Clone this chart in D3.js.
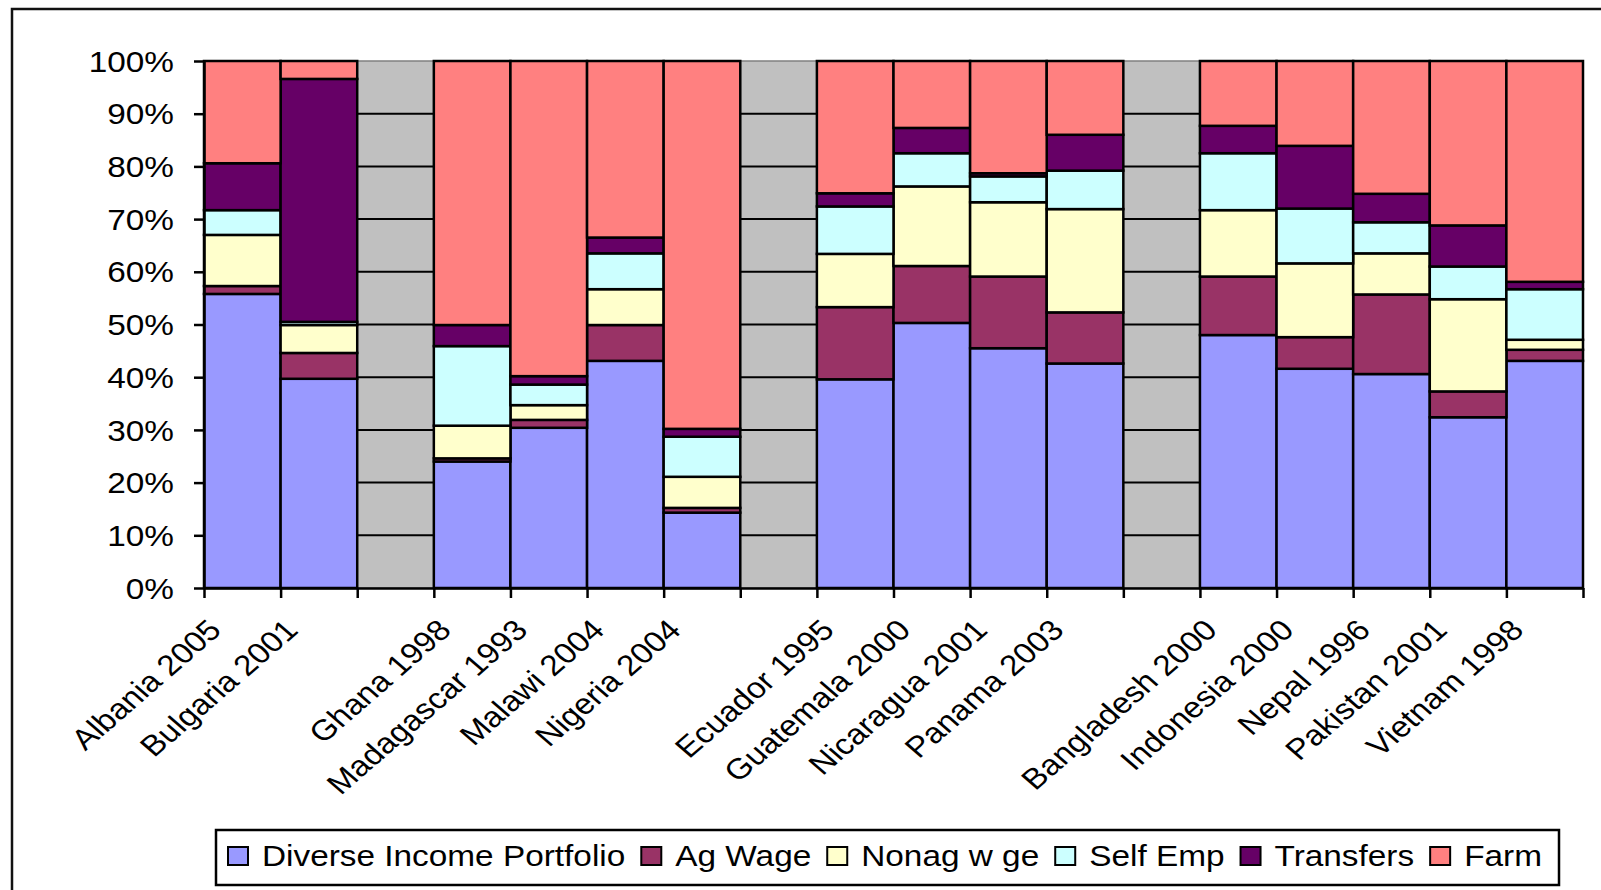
<!DOCTYPE html>
<html>
<head>
    <title>Income portfolio shares</title>
    <script src="https://d3js.org/d3.v7.min.js"></script>
    <style>
        body { margin: 0; background: white; }
        text { font-family: "Liberation Sans", Arial, sans-serif; fill: black; }
    </style>
</head>
<body>
<script>
    // categories, empty strings are the blank slots between regions
    var categories = ["Albania 2005", "Bulgaria 2001", "", "Ghana 1998", "Madagascar 1993", "Malawi 2004", "Nigeria 2004", "",
        "Ecuador 1995", "Guatemala 2000", "Nicaragua 2001", "Panama 2003", "",
        "Bangladesh 2000", "Indonesia 2000", "Nepal 1996", "Pakistan 2001", "Vietnam 1998"];

    var seriesNames = ["Diverse Income Portfolio", "Ag Wage", "Nonag w ge", "Self Emp", "Transfers", "Farm"];

    // shares in percent
    var diverse   = [55.8, 39.7, null, 24.0, 30.4, 43.1, 14.3, null, 39.6, 50.3, 45.5, 42.6, null, 48.0, 41.6, 40.6, 32.4, 43.1];
    var agWage    = [1.5, 4.9, null, 0.6, 1.5, 6.8, 0.9, null, 13.7, 10.8, 13.6, 9.7, null, 11.1, 6.0, 15.1, 4.9, 2.1];
    var nonagWage = [9.7, 5.3, null, 6.2, 2.8, 6.8, 5.9, null, 10.1, 15.1, 14.1, 19.6, null, 12.6, 14.0, 7.8, 17.5, 1.9];
    var selfEmp   = [4.7, 0.6, null, 15.1, 3.9, 6.8, 7.6, null, 9.0, 6.3, 4.9, 7.3, null, 10.8, 10.4, 5.9, 6.2, 9.6];
    var transfers = [8.9, 46.1, null, 4.0, 1.6, 3.0, 1.5, null, 2.5, 4.8, 0.6, 6.8, null, 5.2, 11.9, 5.4, 7.8, 1.4];
    var farm      = [19.4, 3.4, null, 50.1, 59.8, 33.5, 69.8, null, 25.1, 12.7, 21.3, 14.0, null, 12.3, 16.1, 25.2, 31.2, 41.9];

    var yTicks = [0, 10, 20, 30, 40, 50, 60, 70, 80, 90, 100];

    var colors = ["#9999FF", "#993366", "#FFFFCC", "#CCFFFF", "#660066", "#FF8080"];

    var W = 1601, H = 890;
    var plot = {left: 204, right: 1583, top: 61, bottom: 588};
    var stretch = 1.15; // the original text is drawn a bit wide
    var fontSize = 29;

    var svg = d3.select("body").append("svg")
        .attr("width", W)
        .attr("height", H);

    // outer frame (only left and top edges are in view)
    svg.append("rect")
        .attr("x", 12).attr("y", 9)
        .attr("width", 2000).attr("height", 2000)
        .attr("fill", "none")
        .attr("stroke", "#111")
        .attr("stroke-width", 2.5);

    var rows = categories.map(function(c, i) {
        return {i: i, name: c, vals: [diverse[i], agWage[i], nonagWage[i], selfEmp[i], transfers[i], farm[i]]};
    });
    var filled = rows.filter(function(r) { return r.name !== ""; });

    var x = d3.scaleBand()
        .domain(d3.range(categories.length))
        .range([plot.left, plot.right])
        .padding(0);

    var xEdge = d3.scaleLinear()
        .domain([0, categories.length])
        .range([plot.left, plot.right]);

    var y = d3.scaleLinear()
        .domain([0, 100])
        .range([plot.bottom, plot.top]);

    // plot area
    svg.append("rect")
        .attr("x", plot.left).attr("y", plot.top)
        .attr("width", plot.right - plot.left)
        .attr("height", plot.bottom - plot.top)
        .attr("fill", "#C0C0C0")
        .attr("stroke", "#808080")
        .attr("stroke-width", 1.5);

    svg.append("g")
        .selectAll("line")
        .data(yTicks.filter(function(t) { return t > 0 && t < 100; }))
        .enter().append("line")
        .attr("x1", plot.left).attr("x2", plot.right)
        .attr("y1", function(d) { return y(d); })
        .attr("y2", function(d) { return y(d); })
        .attr("stroke", "black")
        .attr("stroke-width", 2);

    var stack = d3.stack()
        .keys(d3.range(seriesNames.length))
        .value(function(r, k) { return r.vals[k]; });
    var layers = stack(filled);

    svg.append("g")
        .selectAll("g")
        .data(layers)
        .enter().append("g")
        .attr("fill", function(d, k) { return colors[k]; })
        .selectAll("rect")
        .data(function(d) { return d; })
        .enter().append("rect")
        .attr("x", function(d) { return x(d.data.i); })
        .attr("width", x.bandwidth())
        .attr("y", function(d) { return y(d[1]); })
        .attr("height", function(d) { return y(d[0]) - y(d[1]); })
        .attr("stroke", "black")
        .attr("stroke-width", 2.5);

    // y axis
    var yAxis = svg.append("g")
        .attr("transform", "translate(" + plot.left + ",0)")
        .call(d3.axisLeft(y).tickValues(yTicks).tickSize(10).tickSizeOuter(0).tickFormat(function(d) { return d + "%"; }));
    yAxis.select(".domain").attr("stroke", "black").attr("stroke-width", 2.5);
    yAxis.selectAll(".tick line").attr("stroke", "black").attr("stroke-width", 2.5);
    yAxis.selectAll(".tick text")
        .attr("x", null)
        .attr("transform", "translate(-30,0) scale(" + stretch + ",1)")
        .attr("dy", "0.35em")
        .style("font-size", fontSize + "px")
        .style("font-family", "Liberation Sans, Arial, sans-serif");

    // x axis with ticks on the band edges
    var xAxis = svg.append("g")
        .attr("transform", "translate(0," + plot.bottom + ")")
        .call(d3.axisBottom(xEdge).tickValues(d3.range(categories.length + 1)).tickSize(10).tickSizeOuter(0).tickFormat(""));
    xAxis.select(".domain").attr("stroke", "black").attr("stroke-width", 2.5);
    xAxis.selectAll(".tick line").attr("stroke", "black").attr("stroke-width", 2.5);

    svg.append("g")
        .selectAll("text")
        .data(filled)
        .enter().append("text")
        .attr("transform", function(d) {
            return "translate(" + (x(d.i) + 2) + ",617) scale(" + stretch + ",1) rotate(-45)";
        })
        .attr("text-anchor", "end")
        .attr("dy", "0.72em")
        .style("font-size", fontSize + "px")
        .text(function(d) { return d.name; });

    // legend
    var legend = svg.append("g");
    legend.append("rect")
        .attr("x", 216).attr("y", 830)
        .attr("width", 1559 - 216).attr("height", 55)
        .attr("fill", "white")
        .attr("stroke", "black")
        .attr("stroke-width", 2.5);

    var lx = 228;
    seriesNames.forEach(function(name, k) {
        legend.append("rect")
            .attr("x", lx).attr("y", 847)
            .attr("width", 20).attr("height", 18)
            .attr("fill", colors[k])
            .attr("stroke", "black")
            .attr("stroke-width", 2);
        var t = legend.append("text")
            .attr("transform", "translate(" + (lx + 34) + ",866) scale(" + stretch + ",1)")
            .style("font-size", fontSize + "px")
            .text(name);
        lx = lx + 34 + t.node().getComputedTextLength() * stretch + 16;
    });
</script>
</body>
</html>
